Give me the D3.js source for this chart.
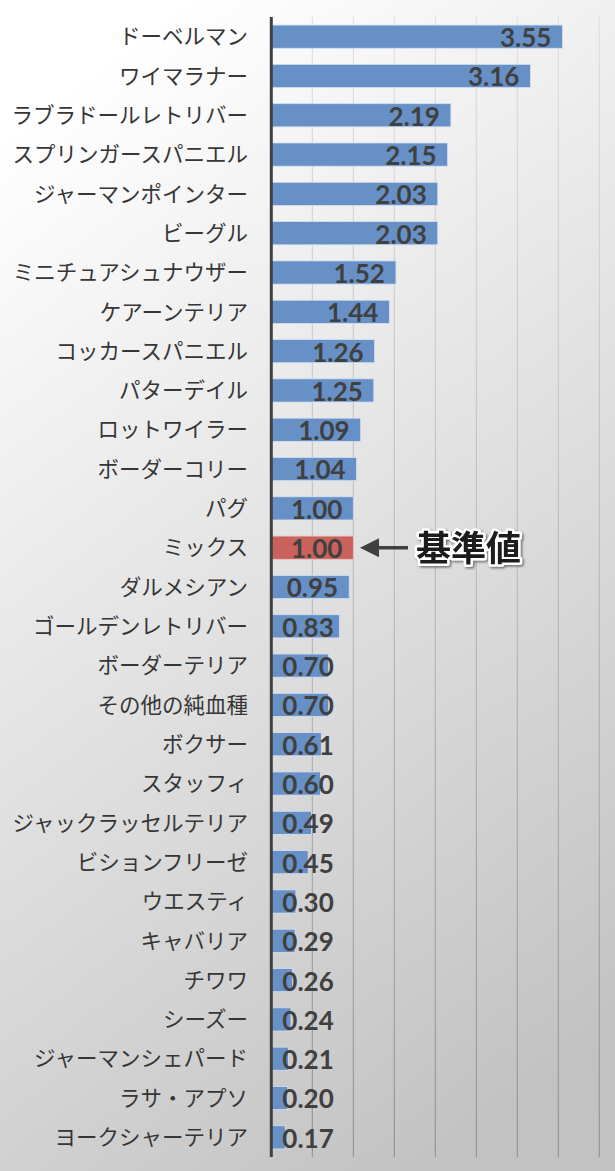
<!DOCTYPE html>
<html>
<head>
<meta charset="utf-8">
<script src="https://cdn.jsdelivr.net/npm/d3@7"></script>
<style>
  html, body { margin: 0; padding: 0; }
  svg { display: block; }
</style>
</head>
<body>
<script>
const breeds = [
  'ドーベルマン', 'ワイマラナー', 'ラブラドールレトリバー', 'スプリンガースパニエル',
  'ジャーマンポインター', 'ビーグル', 'ミニチュアシュナウザー', 'ケアーンテリア',
  'コッカースパニエル', 'パターデイル', 'ロットワイラー', 'ボーダーコリー',
  'パグ', 'ミックス', 'ダルメシアン', 'ゴールデンレトリバー',
  'ボーダーテリア', 'その他の純血種', 'ボクサー', 'スタッフィ',
  'ジャックラッセルテリア', 'ビションフリーゼ', 'ウエスティ', 'キャバリア',
  'チワワ', 'シーズー', 'ジャーマンシェパード', 'ラサ・アプソ', 'ヨークシャーテリア'
];
const ratios = [
  3.55, 3.16, 2.19, 2.15, 2.03, 2.03, 1.52, 1.44, 1.26, 1.25, 1.09, 1.04, 1.00, 1.00,
  0.95, 0.83, 0.70, 0.70, 0.61, 0.60, 0.49, 0.45, 0.30, 0.29, 0.26, 0.24, 0.21, 0.20, 0.17
];
const baseline = 'ミックス';
const baselineLabel = '基準値';
const gridTicks = [0.5, 1, 1.5, 2, 2.5, 3, 3.5, 4];

const width = 615, height = 1171;
const rows = breeds.map((b, i) => ({ name: b, value: ratios[i] }));

const svg = d3.select('body').append('svg')
  .attr('width', width)
  .attr('height', height);

const defs = svg.append('defs');

const bg = defs.append('linearGradient')
  .attr('id', 'bg')
  .attr('x1', '0.3').attr('y1', '0')
  .attr('x2', '0.7').attr('y2', '1');
bg.append('stop').attr('offset', '0').attr('stop-color', '#ffffff');
bg.append('stop').attr('offset', '1').attr('stop-color', '#c2c2c2');

const gridGrad = defs.append('linearGradient')
  .attr('id', 'gridGrad')
  .attr('gradientUnits', 'userSpaceOnUse')
  .attr('x1', 0).attr('y1', 17)
  .attr('x2', 0).attr('y2', 1157);
gridGrad.append('stop').attr('offset', '0').attr('stop-color', '#dedede');
gridGrad.append('stop').attr('offset', '1').attr('stop-color', '#8c8c8c');

defs.append('filter')
  .attr('id', 'shadow')
  .attr('x', '-20%').attr('y', '-20%')
  .attr('width', '140%').attr('height', '140%')
  .append('feDropShadow')
  .attr('dx', 1.5).attr('dy', 1.5)
  .attr('stdDeviation', 1.2)
  .attr('flood-color', '#555')
  .attr('flood-opacity', 0.8);

svg.append('rect')
  .attr('width', width)
  .attr('height', height)
  .attr('fill', 'url(#bg)');

const x = d3.scaleLinear().domain([0, 4]).range([271.3, 599.3]);
const y = d3.scaleBand()
  .domain(breeds)
  .range([17, 1157])
  .paddingInner(0.41)
  .paddingOuter(0.205);

// vertical gridlines
svg.append('g')
  .selectAll('line')
  .data(gridTicks)
  .enter().append('line')
  .attr('x1', d => x(d)).attr('x2', d => x(d))
  .attr('y1', 17).attr('y2', 1157)
  .attr('stroke', 'url(#gridGrad)')
  .attr('stroke-width', 1);

// bars
svg.append('g')
  .selectAll('rect')
  .data(rows)
  .enter().append('rect')
  .attr('x', x(0))
  .attr('y', d => y(d.name))
  .attr('width', d => x(d.value) - x(0))
  .attr('height', y.bandwidth())
  .attr('fill', d => d.name === baseline ? '#c9615d' : '#6790c6')
  .attr('stroke', d => d.name === baseline ? '#e8c4c2' : '#d3e0f0')
  .attr('stroke-width', 0.8);

// axis line
svg.append('line')
  .attr('x1', x(0)).attr('x2', x(0))
  .attr('y1', 17).attr('y2', 1157)
  .attr('stroke', '#404040')
  .attr('stroke-width', 3);

// category labels
svg.append('g')
  .selectAll('text')
  .data(breeds)
  .enter().append('text')
  .attr('x', 248)
  .attr('y', d => y(d) + y.bandwidth() / 2)
  .attr('dy', '0.36em')
  .attr('text-anchor', 'end')
  .style('font-family', '"Noto Sans CJK JP", "Noto Sans", sans-serif')
  .style('font-size', '21.5px')
  .style('fill', '#363636')
  .text(d => d);

// value labels
svg.append('g')
  .selectAll('text')
  .data(rows)
  .enter().append('text')
  .attr('y', d => y(d.name) + y.bandwidth() / 2)
  .attr('dy', '0.4em')
  .style('font-family', 'Lato, "Open Sans", sans-serif')
  .style('font-weight', 'bold')
  .style('font-size', '26px')
  .style('fill', '#404040')
  .text(d => d.value.toFixed(2))
  .each(function(d) {
    const w = this.getComputedTextLength();
    const left = Math.max(x(0) + 11, x(d.value) - 11 - w);
    d3.select(this).attr('x', left);
  });

// baseline annotation
const cy = y(baseline) + y.bandwidth() / 2;
const note = svg.append('g');
note.append('line')
  .attr('x1', 374).attr('x2', 408)
  .attr('y1', cy).attr('y2', cy)
  .attr('stroke', '#404040')
  .attr('stroke-width', 3.5);
note.append('path')
  .attr('d', d3.line()([[360, cy], [379, cy - 9.5], [379, cy + 9.5]]) + 'Z')
  .attr('fill', '#404040');
note.append('text')
  .attr('x', 416)
  .attr('y', cy)
  .attr('dy', '0.38em')
  .attr('filter', 'url(#shadow)')
  .style('font-family', '"Noto Sans CJK JP", sans-serif')
  .style('font-weight', 'bold')
  .style('font-size', '35px')
  .style('fill', '#1c1c1c')
  .style('stroke', '#ffffff')
  .style('stroke-width', '5px')
  .style('stroke-linejoin', 'round')
  .style('paint-order', 'stroke')
  .text(baselineLabel);
</script>
</body>
</html>
